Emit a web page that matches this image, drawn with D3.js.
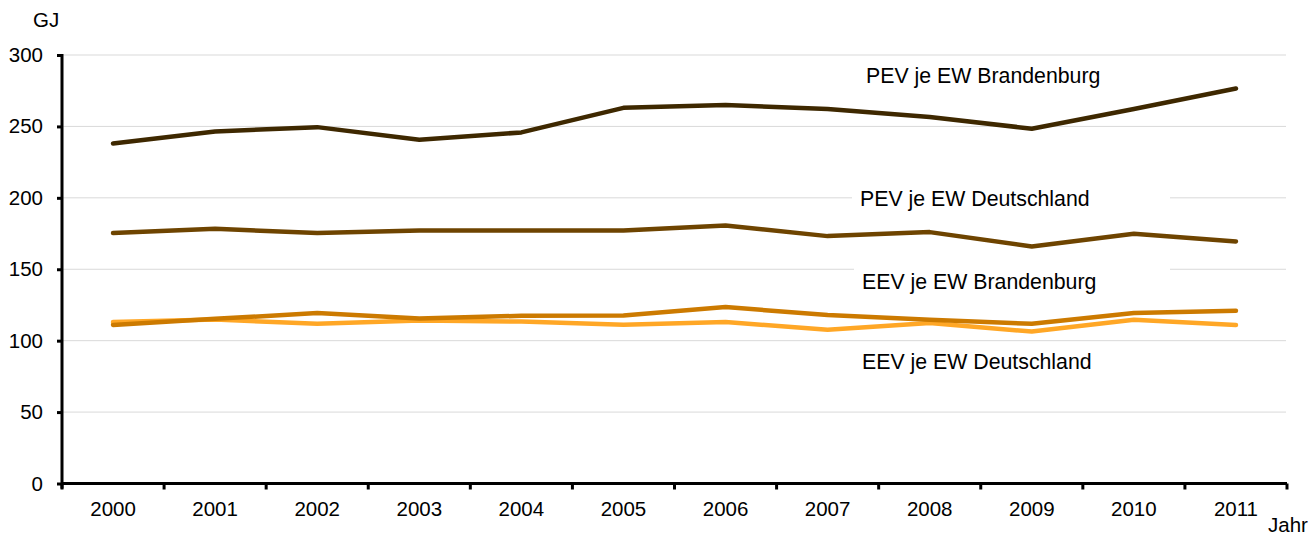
<!DOCTYPE html>
<html>
<head>
<meta charset="utf-8">
<script src="https://cdn.jsdelivr.net/npm/d3@7"></script>
<style>
  body { margin: 0; background: #fff; }
  svg { font-family: "Liberation Sans", Arial, sans-serif; }
</style>
</head>
<body>
<div id="chart"></div>
<script>
'use strict';

var years = ['2000', '2001', '2002', '2003', '2004', '2005', '2006', '2007', '2008', '2009', '2010', '2011'];
var pevBrandenburg = [238, 246.5, 249.5, 240.7, 245.8, 263, 265, 262.2, 256.6, 248.4, 262.2, 276.5];
var pevDeutschland = [175.3, 178.3, 175.3, 177.2, 177.2, 177.2, 180.7, 173.2, 176, 166, 174.8, 169.5];
var eevBrandenburg = [111, 115.3, 119.3, 115.5, 117.4, 117.6, 123.5, 118, 114.6, 111.8, 119.3, 120.9];
var eevDeutschland = [113, 114.8, 111.8, 114.1, 113.4, 111.1, 113, 107.6, 112.3, 106.4, 114.6, 110.9];
var yTicks = [0, 50, 100, 150, 200, 250, 300];

var series = [
  { name: 'EEV je EW Deutschland', values: eevDeutschland, color: '#ffa726', lx: 862, ly: 362 },
  { name: 'EEV je EW Brandenburg', values: eevBrandenburg, color: '#cc7a00', lx: 862, ly: 282 },
  { name: 'PEV je EW Deutschland', values: pevDeutschland, color: '#6e4400', lx: 860, ly: 198.5 },
  { name: 'PEV je EW Brandenburg', values: pevBrandenburg, color: '#3e2800', lx: 866, ly: 76 }
];

var width = 1312, height = 537;
var margin = { top: 55, right: 25, bottom: 53.5, left: 62 };
var fontSize = 20.5;
var labelSize = 21.3;

var svg = d3.select('#chart').append('svg')
  .attr('width', width)
  .attr('height', height);

var x = d3.scaleBand().domain(years).range([margin.left, width - margin.right]);
var y = d3.scaleLinear().domain([0, 300]).range([height - margin.bottom, margin.top]);

// Gridlines
svg.append('g').selectAll('line')
  .data(yTicks.filter(function (d) { return d > 0; }))
  .join('line')
  .attr('x1', margin.left).attr('x2', width - margin.right - 1)
  .attr('y1', function (d) { return y(d); })
  .attr('y2', function (d) { return y(d); })
  .attr('stroke', '#d9d9d9')
  .attr('stroke-width', 1);

// Lines
var line = d3.line()
  .x(function (d, i) { return x(years[i]) + x.bandwidth() / 2; })
  .y(function (d) { return y(d); });

svg.append('g').selectAll('path')
  .data(series)
  .join('path')
  .attr('d', function (s) { return line(s.values); })
  .attr('fill', 'none')
  .attr('stroke', function (s) { return s.color; })
  .attr('stroke-width', 4.5)
  .attr('stroke-linecap', 'round')
  .attr('stroke-linejoin', 'round');

// Series labels on white boxes (boxes interrupt the gridlines)
var labels = svg.append('g').selectAll('g')
  .data(series)
  .join('g')
  .attr('transform', function (s) { return 'translate(' + s.lx + ',' + s.ly + ')'; });
labels.append('rect')
  .attr('x', -8).attr('y', -15)
  .attr('width', function (s) { return 1170 - s.lx + 8; })
  .attr('height', 30)
  .attr('fill', '#fff');
labels.append('text')
  .attr('dy', '0.35em')
  .attr('font-size', labelSize)
  .attr('fill', '#000')
  .text(function (s) { return s.name; });

// Y axis
var yAxis = d3.axisLeft(y).tickValues(yTicks).tickSize(5).tickPadding(14);
var gy = svg.append('g')
  .attr('transform', 'translate(' + margin.left + ',0)')
  .call(yAxis);
gy.select('.domain').attr('stroke-width', 3).attr('d', 'M0,' + (margin.top - 1) + 'V' + (height - margin.bottom + 5));
gy.selectAll('.tick line').attr('stroke-width', 3);
gy.selectAll('.tick text').attr('font-size', fontSize).attr('fill', '#000')
  .attr('font-family', '"Liberation Sans", Arial, sans-serif');

// X axis: ticks at category boundaries
var gx = svg.append('g')
  .attr('transform', 'translate(0,' + y(0) + ')');
gx.append('line')
  .attr('x1', margin.left).attr('x2', width - margin.right)
  .attr('stroke', '#000').attr('stroke-width', 3);
var bounds = years.map(function (d) { return x(d); }).concat([width - margin.right]);
gx.selectAll('.xt')
  .data(bounds)
  .join('line')
  .attr('class', 'xt')
  .attr('x1', function (d) { return d; }).attr('x2', function (d) { return d; })
  .attr('y1', 0).attr('y2', 6)
  .attr('stroke', '#000').attr('stroke-width', 3);
gx.selectAll('text')
  .data(years)
  .join('text')
  .attr('x', function (d) { return x(d) + x.bandwidth() / 2; })
  .attr('y', 32)
  .attr('text-anchor', 'middle')
  .attr('font-size', fontSize)
  .attr('fill', '#000')
  .text(function (d) { return d; });

// Axis titles
svg.append('text').attr('x', 33).attr('y', 27).attr('font-size', fontSize).text('GJ');
svg.append('text').attr('x', 1268).attr('y', 532).attr('font-size', fontSize).text('Jahr');
</script>
</body>
</html>
